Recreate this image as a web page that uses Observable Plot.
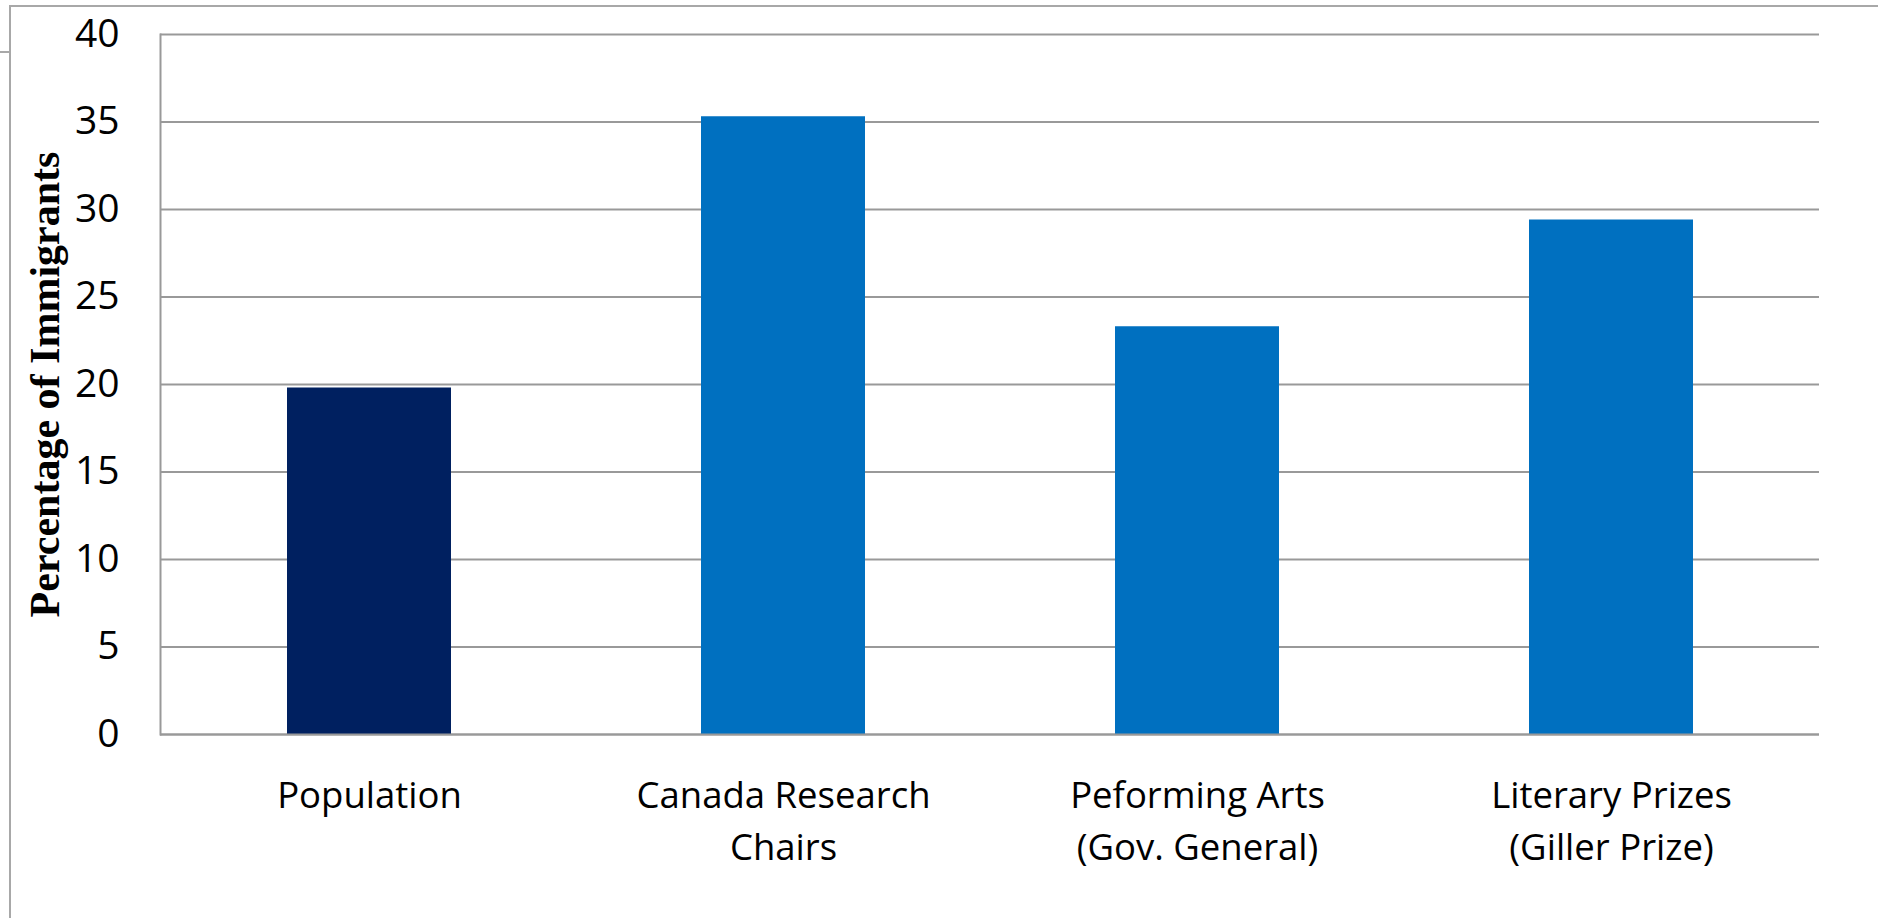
<!DOCTYPE html>
<html>
<head>
<meta charset="utf-8">
<script src="https://cdn.jsdelivr.net/npm/d3@7"></script>
<script src="https://cdn.jsdelivr.net/npm/@observablehq/plot@0.6"></script>
<style>
html, body { margin: 0; padding: 0; background: #fff; }
#wrap { position: relative; width: 1878px; height: 918px; overflow: hidden; background: #fff; }
#frame { position: absolute; left: 9px; top: 5px; width: 1900px; height: 1000px; border-top: 2px solid #a8a8a8; border-left: 2px solid #a8a8a8; }
#stub { position: absolute; left: 0; top: 51px; width: 10px; height: 2px; background: #a8a8a8; }
#chart { position: absolute; left: 0; top: 0; }
</style>
</head>
<body>
<div id="wrap"><div id="frame"></div><div id="stub"></div><div id="chart"></div></div>
<script>
const categories = ["Population", "Canada Research\nChairs", "Peforming Arts\n(Gov. General)", "Literary Prizes\n(Giller Prize)"];
const values = [19.8, 35.3, 23.3, 29.4];
const barColors = ["#002060", "#0070C0", "#0070C0", "#0070C0"];
const yTicks = [0, 5, 10, 15, 20, 25, 30, 35, 40];
const yLabel = ["Percentage of Immigrants"];

const data = categories.map((c, i) => ({category: c, value: values[i], color: barColors[i]}));

const chart = Plot.plot({
  width: 1878,
  height: 918,
  marginLeft: 160,
  marginRight: 59,
  marginTop: 34,
  marginBottom: 184,
  style: {background: "transparent", fontFamily: "'Open Sans'", color: "#000"},
  x: {domain: categories, paddingInner: 0.605, paddingOuter: 0.3025, label: null},
  y: {domain: [0, 40], label: null},
  color: {type: "identity"},
  marks: [
    Plot.gridY(yTicks, {stroke: "#999999", strokeOpacity: 1, strokeWidth: 2}),
    Plot.barY(data, {x: "category", y: "value", fill: "color"}),
    Plot.ruleY([0], {stroke: "#999999", strokeWidth: 2}),
    Plot.frame({anchor: "left", stroke: "#999999", strokeWidth: 2}),
    Plot.axisY(yTicks, {tickSize: 0, tickPadding: 41, fontSize: 39, fill: "#000", label: null}),
    Plot.axisX({tickSize: 0, tickPadding: 36, fontSize: 36.5, lineHeight: 1.44, fill: "#000", label: null}),
    Plot.text(yLabel, {text: d => d, frameAnchor: "left", textAnchor: "middle", lineAnchor: "middle", rotate: -90, dx: -115, fontFamily: "Liberation Serif", fontWeight: "bold", fontSize: 42, fill: "#000"})
  ]
});
document.getElementById("chart").appendChild(chart);
</script>
</body>
</html>
